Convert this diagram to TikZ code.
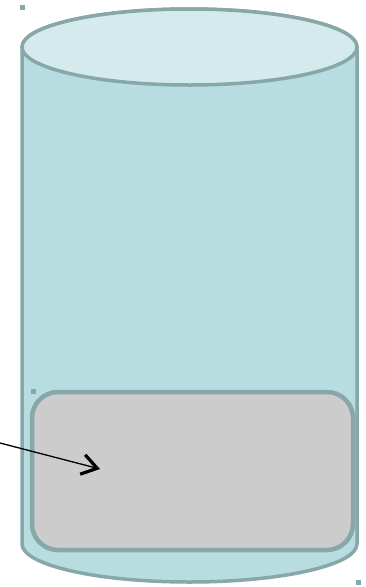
\documentclass[tikz,border=0pt]{standalone}
\usetikzlibrary{arrows.meta}
\definecolor{cylstroke}{HTML}{87A7A8}
\definecolor{cylbody}{HTML}{B7DDE0}
\definecolor{cyltop}{HTML}{D5EAED}
\definecolor{boxfill}{HTML}{CCCCCC}
\tikzset{
  cylline/.style={draw=cylstroke, line width=3.5pt},
  handle/.style={fill=cylstroke, minimum size=5pt, inner sep=0pt, draw=none},
  pointer/.style={draw=black, line width=1.3pt, -{Straight Barb[length=15pt,width=20pt,line width=3.2pt]}}
}
\begin{document}
\begin{tikzpicture}[x=1pt,y=-1pt]
\useasboundingbox (0,0) rectangle (365,587);
% cylinder body
\path[cylline, fill=cylbody] (22,47) -- (22,544) arc[start angle=180, end angle=0, x radius=167.5, y radius=38] -- (357,47) arc[start angle=0, end angle=-180, x radius=167.5, y radius=38] -- cycle;
% top ellipse
\path[cylline, fill=cyltop] (189.5,47) ellipse[x radius=167.5, y radius=38];
% inner box
\node[draw=cylstroke, line width=4.5pt, fill=boxfill, rounded corners=26pt, minimum width=321pt, minimum height=158pt, inner sep=0pt] (box) at (192.5,471) {};
% handles
\node[handle] (h1) at (22,7) {};
\node[handle] (h2) at (33,391) {};
\node[handle] (h3) at (358,582) {};
% pointer
\coordinate (src) at (0,443);
\coordinate (tip) at (100,469);
\draw[pointer] (src) -- (tip);
\end{tikzpicture}
\end{document}
